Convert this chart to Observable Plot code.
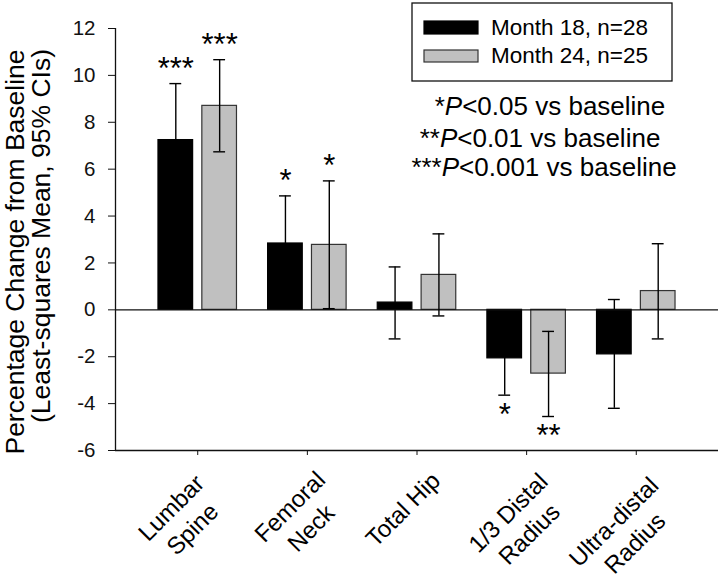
<!DOCTYPE html>
<html><head><meta charset="utf-8">
<script src="https://cdn.jsdelivr.net/npm/d3@7"></script>
<script src="https://cdn.jsdelivr.net/npm/@observablehq/plot@0.6"></script>
<style>
html,body{margin:0;padding:0;background:#fff;}
#chart{width:720px;height:578px;}
</style></head><body><div id="chart"></div>
<script>
// ---- data ----
const categories = ["Lumbar Spine", "Femoral Neck", "Total Hip", "1/3 Distal Radius", "Ultra-distal Radius"];
const tickLabels = ["Lumbar\nSpine", "Femoral\nNeck", "Total Hip", "1/3 Distal\nRadius", "Ultra-distal\nRadius"];
const seriesNames = ["Month 18, n=28", "Month 24, n=25"];
const month18   = [7.24, 2.83, 0.31, -2.07, -1.90];
const month18Lo = [4.83, 0.80, -1.24, -3.64, -4.20];
const month18Hi = [9.65, 4.86, 1.83, -0.50, 0.44];
const month24   = [8.70, 2.77, 1.49, -2.72, 0.80];
const month24Lo = [6.74, 0.05, -0.26, -4.55, -1.24];
const month24Hi = [10.67, 5.50, 3.24, -0.92, 2.82];
const stars18 = ["***", "*", "", "*", ""];
const stars24 = ["***", "*", "", "**", ""];
const yTicks = [-6, -4, -2, 0, 2, 4, 6, 8, 10, 12];
const noteStars = ["*", "**", "***"];
const notePValues = ["0.05", "0.01", "0.001"];
const yTitle = ["Percentage Change from Baseline", "(Least-squares Mean, 95% CIs)"];

// ---- styling / layout ----
const FONT = '"Liberation Sans", Arial, Helvetica, sans-serif';
const fills = ["#000000", "#c0c0c0"];
const strokes = ["#000000", "#333333"];
const groupOffset = [-0.2, 0.2];
const barHalf = 0.158;
const capHalf = 0.054;
const ink = "#111";
// per-label nudges (screen px) of the rotated label block centre relative to its tick
const labelNudge = [[-17, 67], [-8, 66], [-15, 58], [-9, 72], [-13, 81]];

const rows = [];
categories.forEach((c, i) => {
  rows.push({i, s: 0, value: month18[i], lo: month18Lo[i], hi: month18Hi[i], stars: stars18[i]});
  rows.push({i, s: 1, value: month24[i], lo: month24Lo[i], hi: month24Hi[i], stars: stars24[i]});
});
const cx = d => d.i + groupOffset[d.s];

function errorBars(data) {
  return [
    Plot.ruleX(data, {x: cx, y1: "lo", y2: "hi", stroke: "#000", strokeWidth: 1.4}),
    Plot.ruleY(data, {x1: d => cx(d) - capHalf, x2: d => cx(d) + capHalf, y: "hi", stroke: "#000", strokeWidth: 1.4}),
    Plot.ruleY(data, {x1: d => cx(d) - capHalf, x2: d => cx(d) + capHalf, y: "lo", stroke: "#000", strokeWidth: 1.4})
  ];
}
function bars(data, s) {
  return Plot.rect(data, {
    x1: d => cx(d) - barHalf, x2: d => cx(d) + barHalf,
    y1: () => 0, y2: "value",
    fill: fills[s], stroke: strokes[s], strokeWidth: 1.2
  });
}
const rows18 = rows.filter(d => d.s === 0);
const rows24 = rows.filter(d => d.s === 1);

const marks = [
  ...errorBars(rows18),
  bars(rows18, 0),
  bars(rows24, 1),
  Plot.ruleY([0], {stroke: ink, strokeWidth: 1.3}),
  ...errorBars(rows24),
  Plot.ruleX([-0.75], {stroke: ink, strokeWidth: 1.3}),
  Plot.ruleY([-6], {stroke: ink, strokeWidth: 1.3}),
  // significance stars
  Plot.text(rows.filter(d => d.stars && d.value > 0), {
    x: cx, y: "hi", text: "stars", dy: -15, fontSize: 31, fill: "#000", fontFamily: FONT
  }),
  Plot.text(rows.filter(d => d.stars && d.value < 0), {
    x: cx, y: "lo", text: "stars", dy: 20, fontSize: 31, fill: "#000", fontFamily: FONT
  })
];
// category labels
tickLabels.forEach((t, i) => {
  marks.push(Plot.text([t], {
    x: () => i, frameAnchor: "bottom", text: d => d,
    rotate: -45, textAnchor: "middle", lineAnchor: "middle", lineHeight: 1.25,
    dx: labelNudge[i][0], dy: labelNudge[i][1],
    fontSize: 24, fill: "#000", fontFamily: FONT
  }));
});

const svg = Plot.plot({
  width: 720, height: 578,
  marginLeft: 115, marginRight: 2, marginTop: 28, marginBottom: 128,
  style: {fontFamily: FONT, fontSize: "20.5px", color: "#111", background: "white", overflow: "visible"},
  x: {type: "linear", domain: [-0.75, 4.75], ticks: d3.range(categories.length), tickFormat: () => "", tickSize: 5, label: null},
  y: {domain: [-6, 12], ticks: yTicks, tickFormat: d => String(d), tickSize: 7, tickPadding: 13, label: null},
  marks
});
document.getElementById("chart").appendChild(svg);

// ---- y-axis title, legend and notes (layout text) ----
const s = d3.select(svg);
const g = s.append("g").attr("font-family", FONT).attr("fill", "#000").attr("text-anchor", "start");
g.append("text").attr("transform", "translate(24,252) rotate(-90)")
  .attr("text-anchor", "middle").attr("font-size", 26.5).text(yTitle[0]);
g.append("text").attr("transform", "translate(50,236) rotate(-90)")
  .attr("text-anchor", "middle").attr("font-size", 26.5).text(yTitle[1]);

const lg = g.append("g");
lg.append("rect").attr("x", 412).attr("y", 3).attr("width", 260).attr("height", 78)
  .attr("fill", "white").attr("stroke", "#111").attr("stroke-width", 1.3);
seriesNames.forEach((name, k) => {
  lg.append("rect").attr("x", 424).attr("y", k ? 50 : 21).attr("width", 54).attr("height", k ? 12 : 13)
    .attr("fill", fills[k]).attr("stroke", strokes[k]).attr("stroke-width", 1.2);
  lg.append("text").attr("x", 491).attr("y", k ? 63 : 35).attr("text-anchor", "start")
    .attr("font-size", 22.5).text(name);
});

const noteX = [550, 540, 544];
const noteY = [115, 147, 176];
noteStars.forEach((st, k) => {
  const t = g.append("text").attr("x", noteX[k]).attr("y", noteY[k]).attr("text-anchor", "middle").attr("font-size", 26);
  t.append("tspan").text(st);
  t.append("tspan").attr("font-style", "italic").text("P");
  t.append("tspan").text("<" + notePValues[k] + " vs baseline");
});
</script></body></html>
